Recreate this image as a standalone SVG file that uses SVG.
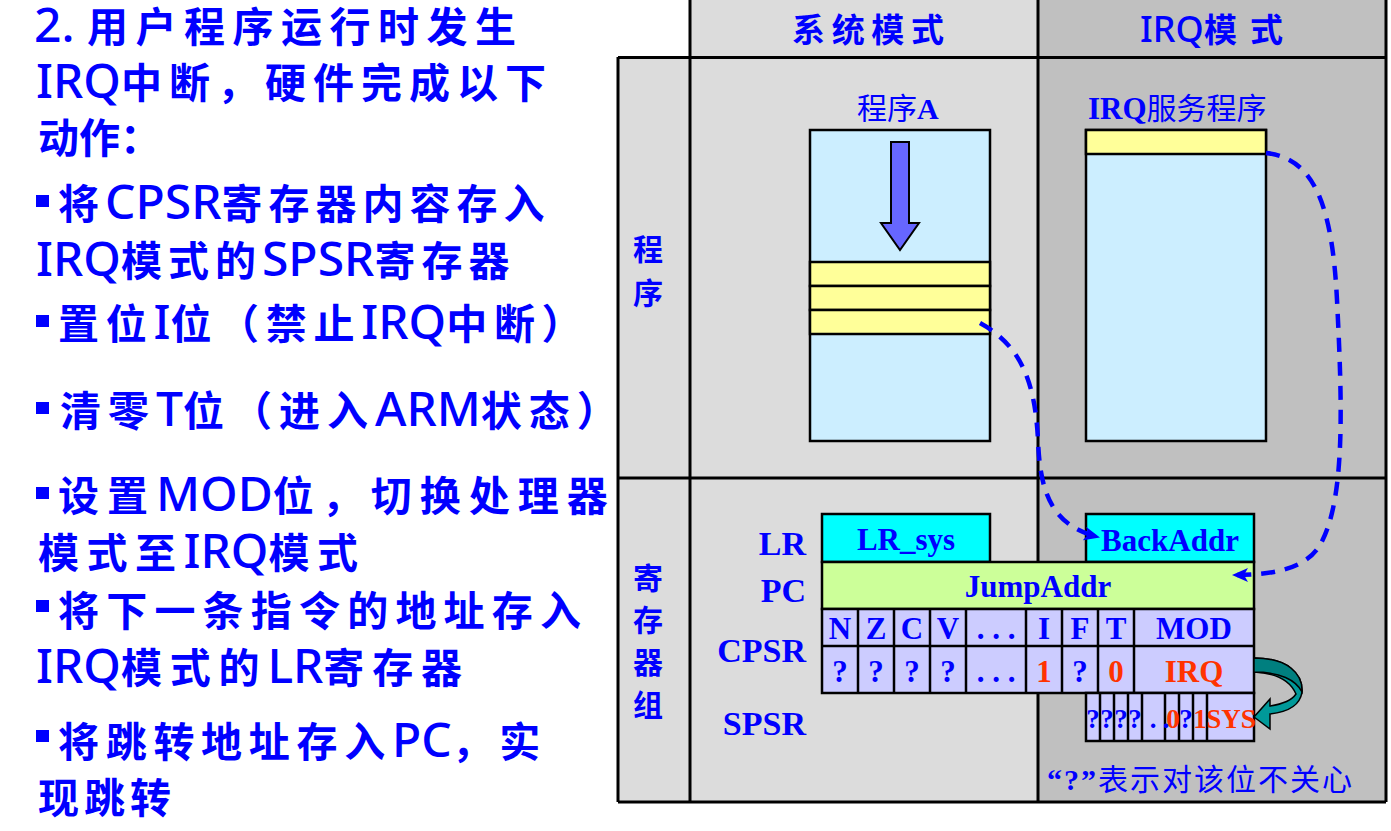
<svg xmlns="http://www.w3.org/2000/svg" width="1391" height="831" viewBox="0 0 1391 831">
<defs>
<style>
.lt{font-family:"Noto Sans CJK SC","Noto Sans",sans-serif;font-size:41px;font-weight:700;fill:#0000FF}
.lat{font-family:"Noto Sans","Noto Sans CJK SC",sans-serif;font-weight:500;font-size:48px;letter-spacing:0}
.hd{font-family:"Noto Sans CJK SC",sans-serif;font-size:33px;font-weight:700;fill:#0000FF}
.vc{font-family:"Noto Sans CJK SC",sans-serif;font-size:30px;font-weight:700;fill:#0000FF;text-anchor:middle}
.pl{font-family:"Liberation Serif","Noto Sans CJK SC",serif;font-size:30px;fill:#0000FF}
.b{font-weight:700;font-family:"Liberation Serif",serif}
.rl{font-family:"Liberation Serif",serif;font-size:34px;font-weight:700;fill:#0000FF;text-anchor:end}
.ct{font-family:"Liberation Serif",serif;font-size:31px;font-weight:700;fill:#0000FF;text-anchor:middle}
.st{font-family:"Liberation Serif",serif;font-size:27px;font-weight:700;fill:#0000FF;text-anchor:middle}
.red{fill:#FF3300}
.grid{stroke:#000;stroke-width:3;fill:none}
.box{stroke:#000;stroke-width:2.5}
.dash{fill:none;stroke:#0000FF;stroke-width:4.5;stroke-dasharray:14 10}
.note{font-family:"Liberation Serif","Noto Sans CJK SC",serif;font-size:30px;fill:#0000FF}
</style>
<marker id="ah" markerUnits="userSpaceOnUse" markerWidth="16" markerHeight="14" refX="14" refY="7" orient="auto">
<path d="M0,0 L16,7 L0,14 L4,7 z" fill="#0000FF"/>
</marker>
</defs>

<g id="left-text">
<text class="lt" x="34" y="42" font-size="40" letter-spacing="7.5"><tspan class="lat" font-size="42">2.&#160;</tspan>用户程序运行时发生</text>
<text class="lt" x="36" y="98" letter-spacing="7"><tspan class="lat">IRQ</tspan>中断，硬件完成以下</text>
<text class="lt" x="38" y="153">动作：</text>
<rect x="36" y="195" width="13" height="12" fill="#0000FF"/>
<text class="lt" x="58" y="219" letter-spacing="6">将<tspan class="lat">CPSR</tspan>寄存器内容存入</text>
<text class="lt" x="36" y="276" letter-spacing="6"><tspan class="lat">IRQ</tspan>模式的<tspan class="lat">SPSR</tspan>寄存器</text>
<rect x="36" y="315" width="13" height="12" fill="#0000FF"/>
<text class="lt" x="58" y="339" letter-spacing="6.7">置位<tspan class="lat">I</tspan>位（禁止<tspan class="lat">IRQ</tspan>中断）</text>
<rect x="36" y="402" width="13" height="12" fill="#0000FF"/>
<text class="lt" x="60" y="426" letter-spacing="7">清零<tspan class="lat">T</tspan>位（进入<tspan class="lat">ARM</tspan>状态）</text>
<rect x="36" y="487" width="13" height="12" fill="#0000FF"/>
<text class="lt" x="58" y="511" letter-spacing="8">设置<tspan class="lat">MOD</tspan>位，切换处理器</text>
<text class="lt" x="38" y="568" letter-spacing="7.5">模式至<tspan class="lat">IRQ</tspan>模式</text>
<rect x="36" y="600" width="13" height="12" fill="#0000FF"/>
<text class="lt" x="58" y="626" letter-spacing="7.2">将下一条指令的地址存入</text>
<text class="lt" x="36" y="683" letter-spacing="7.8"><tspan class="lat">IRQ</tspan>模式的<tspan class="lat">LR</tspan>寄存器</text>
<rect x="36" y="730" width="13" height="12" fill="#0000FF"/>
<text class="lt" x="58" y="757" letter-spacing="6.7">将跳转地址存入<tspan class="lat">PC</tspan>，实</text>
<text class="lt" x="38" y="813" letter-spacing="5">现跳转</text>
</g>

<g id="table">
<rect x="618" y="57" width="72" height="745" fill="#DCDCDC"/>
<rect x="690" y="0" width="348" height="802" fill="#DCDCDC"/>
<rect x="1038" y="0" width="348" height="802" fill="#C0C0C0"/>
<path class="grid" d="M618 57.5H1386 M618 478H1386 M618 802H1386 M618 57V802 M690 0V802 M1038 0V802 M1386 0V802"/>
</g>

<g id="headers">
<text class="hd" x="792" y="42" textLength="152" lengthAdjust="spacing">系统模式</text>
<text class="hd" x="1140" y="42"><tspan font-family="Noto Sans" font-weight="500" font-size="36">IRQ</tspan><tspan x="1204">模</tspan><tspan x="1250">式</tspan></text>
<text class="vc" x="648" y="260">程</text>
<text class="vc" x="648" y="304">序</text>
<text class="vc" x="648" y="589">寄</text>
<text class="vc" x="648" y="631">存</text>
<text class="vc" x="648" y="673">器</text>
<text class="vc" x="648" y="716">组</text>
</g>

<g id="programA">
<text class="pl" x="857" y="119">程序<tspan class="b">A</tspan></text>
<rect class="box" x="810" y="130" width="180" height="311" fill="#CCEEFF"/>
<rect class="box" x="810" y="262" width="180" height="24" fill="#FFFF99"/>
<rect class="box" x="810" y="286" width="180" height="24" fill="#FFFF99"/>
<rect class="box" x="810" y="310" width="180" height="24" fill="#FFFF99"/>
<path d="M891 142H909V223H919L900 250L881 223H891Z" fill="#6666FF" stroke="#000" stroke-width="2"/>
</g>

<g id="irq-service">
<text class="pl" x="1088" y="119"><tspan class="b" font-size="31">IRQ</tspan>服务程序</text>
<rect class="box" x="1086" y="130" width="180" height="311" fill="#CCEEFF"/>
<rect class="box" x="1086" y="130" width="180" height="24" fill="#FFFF99"/>
</g>

<g id="register-labels">
<text class="rl" x="806" y="555">LR</text>
<text class="rl" x="806" y="602">PC</text>
<text class="rl" x="806" y="662">CPSR</text>
<text class="rl" x="806" y="735">SPSR</text>
</g>

<g id="lr-sys">
<rect class="box" x="822" y="514" width="168" height="48" fill="#00FFFF"/>
<text class="ct" x="906" y="550">LR_sys</text>
</g>

<g id="backaddr">
<rect class="box" x="1086" y="514" width="168" height="48" fill="#00FFFF"/>
<text class="ct" x="1170" y="551">BackAddr</text>
</g>

<g id="pc">
<rect class="box" x="822" y="562" width="432" height="47" fill="#CCFF99"/>
<text class="ct" x="1038" y="597">JumpAddr</text>
</g>

<g id="cpsr">
<rect class="box" x="822" y="609" width="432" height="84" fill="#CCCCFF"/>
<path class="box" fill="none" d="M822 646H1254 M858 609V693 M894 609V693 M930 609V693 M966 609V693 M1026 609V693 M1062 609V693 M1098 609V693 M1134 609V693"/>
<text class="ct" x="840" y="639">N</text>
<text class="ct" x="876" y="639">Z</text>
<text class="ct" x="912" y="639">C</text>
<text class="ct" x="948" y="639">V</text>
<text class="ct" x="996" y="639">. . .</text>
<text class="ct" x="1044" y="639">I</text>
<text class="ct" x="1080" y="639">F</text>
<text class="ct" x="1116" y="639">T</text>
<text class="ct" x="1194" y="639">MOD</text>
<text class="ct" x="840" y="682">?</text>
<text class="ct" x="876" y="682">?</text>
<text class="ct" x="912" y="682">?</text>
<text class="ct" x="948" y="682">?</text>
<text class="ct" x="996" y="682">. . .</text>
<text class="ct red" x="1044" y="682">1</text>
<text class="ct" x="1080" y="682">?</text>
<text class="ct red" x="1116" y="682">0</text>
<text class="ct red" x="1194" y="682">IRQ</text>
</g>

<g id="spsr">
<rect class="box" x="1086" y="693" width="168" height="48" fill="#CCCCFF"/>
<path class="box" fill="none" d="M1100 693V741 M1114 693V741 M1128 693V741 M1142 693V741 M1165 693V741 M1179 693V741 M1193 693V741 M1207 693V741"/>
<text class="st" y="728"><tspan x="1093">?</tspan><tspan x="1107">?</tspan><tspan x="1121">?</tspan><tspan x="1135">?</tspan><tspan x="1153">.</tspan><tspan x="1166">.</tspan><tspan x="1173" class="red">0</tspan><tspan x="1186">?</tspan><tspan x="1200" class="red">1</tspan><tspan x="1231" class="red">SYS</tspan></text>
</g>

<g id="connectors">
<path class="dash" d="M980 323 C1020 345 1035 380 1038 440 C1040 490 1050 525 1098 537" marker-end="url(#ah)"/>
<path class="dash" d="M1266 153 C1312 158 1332 200 1337 300 C1342 400 1346 500 1320 545 C1305 570 1270 575 1234 575" marker-end="url(#ah)"/>
<g id="mode-switch-arrow">
<path d="M1254 658 C1288 658 1303 674 1302 692 C1300 706 1288 712 1270 714 L1270 729 L1254 717 L1270 699 L1270 706 C1283 704 1292 700 1296 694 C1290 680 1275 673 1254 672 Z" fill="#009999" stroke="#000" stroke-width="1.5"/>
<path d="M1254 658 C1288 658 1303 674 1302 692 C1296 680 1280 672 1254 672 Z" fill="#007F7F" stroke="#000" stroke-width="1.5"/>
</g>
</g>

<g id="note">
<text class="note" x="1047" y="790" textLength="305" lengthAdjust="spacing"><tspan class="b">“?”</tspan>表示对该位不关心</text>
</g>
</svg>
